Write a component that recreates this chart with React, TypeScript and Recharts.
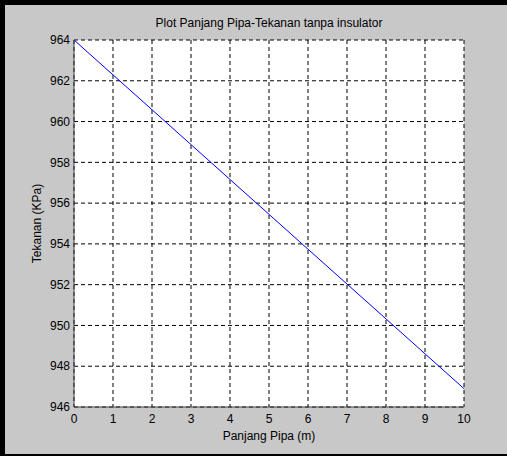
import React from 'react';
import { LineChart, Line, XAxis, YAxis, CartesianGrid, Label } from 'recharts';

// Panjang pipa (m) dan tekanan (kPa)
const panjang = [0, 1, 2, 3, 4, 5, 6, 7, 8, 9, 10];
const tekanan = [964, 962.29, 960.58, 958.87, 957.16, 955.45, 953.74, 952.03, 950.32, 948.61, 946.9];

const xTicks = [0, 1, 2, 3, 4, 5, 6, 7, 8, 9, 10];
const yTicks = [946, 948, 950, 952, 954, 956, 958, 960, 962, 964];

const chartData = panjang.map((p, i) => ({ panjang: p, tekanan: tekanan[i] }));

const font = '"Liberation Sans", Arial, sans-serif';
const tickStyle = { fill: '#000', fontSize: 12, fontFamily: font };

export default function App() {
  return (
    <div style={{ position: 'absolute', left: 0, top: 0, width: 507, height: 456, background: '#c8c8c8', fontFamily: font }}>
      <LineChart width={507} height={456} data={chartData} margin={{ top: 0, right: 43, bottom: 0, left: 0 }}>
        <CartesianGrid fill="#ffffff" stroke="#000" strokeDasharray="4 3" />
        <XAxis
          xAxisId="top"
          orientation="top"
          type="number"
          dataKey="panjang"
          domain={[0, 10]}
          height={40}
          tick={false}
          tickLine={false}
          axisLine={false}
        >
          <Label value="Plot Panjang Pipa-Tekanan tanpa insulator" position="insideBottom" offset={13} fill="#000" fontSize={12} fontFamily={font} />
        </XAxis>
        <XAxis
          type="number"
          dataKey="panjang"
          domain={[0, 10]}
          ticks={xTicks}
          interval={0}
          height={49}
          tickSize={0}
          tickMargin={7}
          tickLine={false}
          axisLine={{ stroke: '#444' }}
          tick={tickStyle}
        >
          <Label value="Panjang Pipa (m)" position="insideBottom" offset={16} fill="#000" fontSize={12} fontFamily={font} />
        </XAxis>
        <YAxis
          type="number"
          domain={[946, 964]}
          ticks={yTicks}
          interval={0}
          width={74}
          tickSize={0}
          tickMargin={4}
          tickLine={false}
          axisLine={{ stroke: '#444' }}
          tick={tickStyle}
        >
          <Label value="Tekanan (KPa)" position="center" angle={-90} fill="#000" fontSize={12} fontFamily={font} />
        </YAxis>
        <Line type="linear" dataKey="tekanan" stroke="#0000ff" strokeWidth={1} dot={false} isAnimationActive={false} />
      </LineChart>
      <div style={{ position: 'absolute', left: 0, top: 0, width: 507, height: 5, background: '#000' }} />
      <div style={{ position: 'absolute', left: 0, top: 0, width: 5, height: 456, background: '#000' }} />
      <div style={{ position: 'absolute', left: 0, bottom: 0, width: 507, height: 2, background: '#000' }} />
    </div>
  );
}
